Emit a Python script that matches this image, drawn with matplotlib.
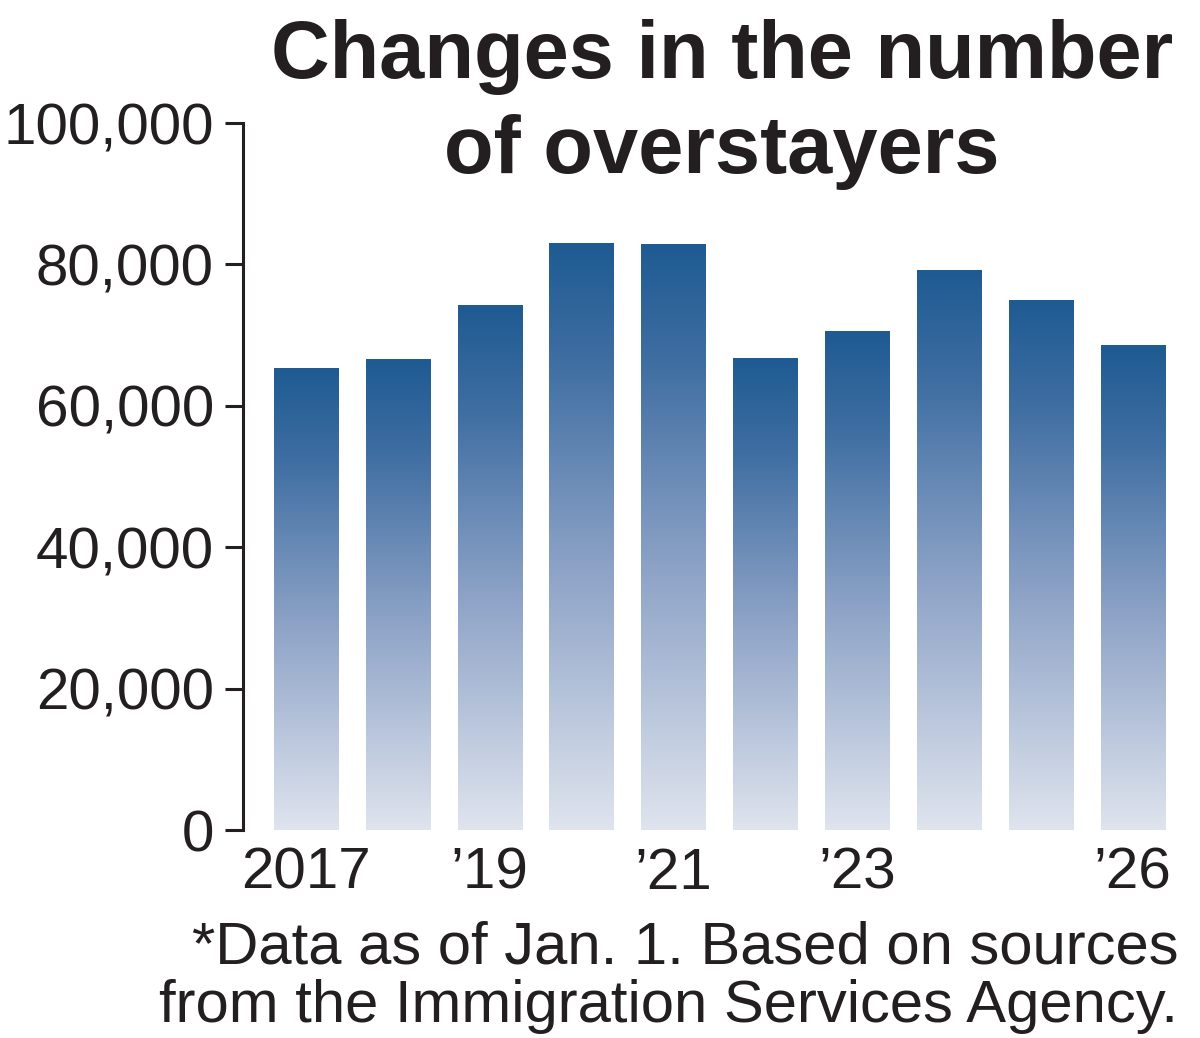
import numpy as np
import matplotlib
matplotlib.use("Agg")
import matplotlib.pyplot as plt
from matplotlib.colors import LinearSegmentedColormap

# 不法残留者数（各年1月1日）
years = [2017, 2018, 2019, 2020, 2021, 2022, 2023, 2024, 2025, 2026]
overstayers = [65270, 66498, 74167, 82892, 82868, 66759, 70491, 79113, 74863, 68488]
year_labels = ["2017", "", "\u201919", "", "\u201921", "", "\u201923", "", "", "\u201926"]
y_ticks = [0, 20000, 40000, 60000, 80000, 100000]

title_lines = ['Changes in the number', 'of overstayers']
note_lines = ['*Data as of Jan. 1. Based on sources',
              'from the Immigration Services Agency.']

plt.rcParams['font.family'] = ['Liberation Sans', 'DejaVu Sans']
ink = '#231f20'

cmap = LinearSegmentedColormap.from_list(
    'bar_grad', [(0.0, '#dfe4ee'), (0.45, '#8ca2c6'), (0.8, '#3f6ea2'), (1.0, '#1e5b92')])
grad = np.linspace(0, 1, 256).reshape(-1, 1)

W, H = 1200, 1038
fig = plt.figure(figsize=(W / 100, H / 100), dpi=100)
ax = fig.add_axes([243 / W, 208 / H, 922 / W, 707 / H])

w = 0.70
for i, v in enumerate(overstayers):
    ax.imshow(grad, cmap=cmap, origin='lower', aspect='auto',
              extent=[i - w / 2, i + w / 2, 0, v], interpolation='bicubic', zorder=2)

ax.set_xlim(-0.686, 9.35)
ax.set_ylim(0, 100000)

for s in ['top', 'right', 'bottom']:
    ax.spines[s].set_visible(False)
ax.spines['left'].set_linewidth(2.2)
ax.spines['left'].set_color(ink)

ax.set_yticks(y_ticks)
ax.set_yticklabels([f'{t:,}' for t in y_ticks])
ax.tick_params(axis='y', direction='out', length=13, width=2.2, color=ink,
               labelsize=42, labelcolor=ink, pad=8)
ax.set_xticks(range(len(years)))
ax.set_xticklabels(year_labels)
ax.tick_params(axis='x', length=0, labelsize=42, labelcolor=ink, pad=12)

# タイトル（2行）
for txt, yb in zip(title_lines, [78, 173]):
    fig.text(722 / W, 1 - yb / H, txt, ha='center', va='baseline',
             fontsize=58.5, fontweight='bold', color=ink)

# 注記
for txt, yb in zip(note_lines, [963, 1022]):
    fig.text(1178 / W, 1 - yb / H, txt, ha='right', va='baseline',
             fontsize=43, color=ink)

fig.savefig('out.png', dpi=100)
